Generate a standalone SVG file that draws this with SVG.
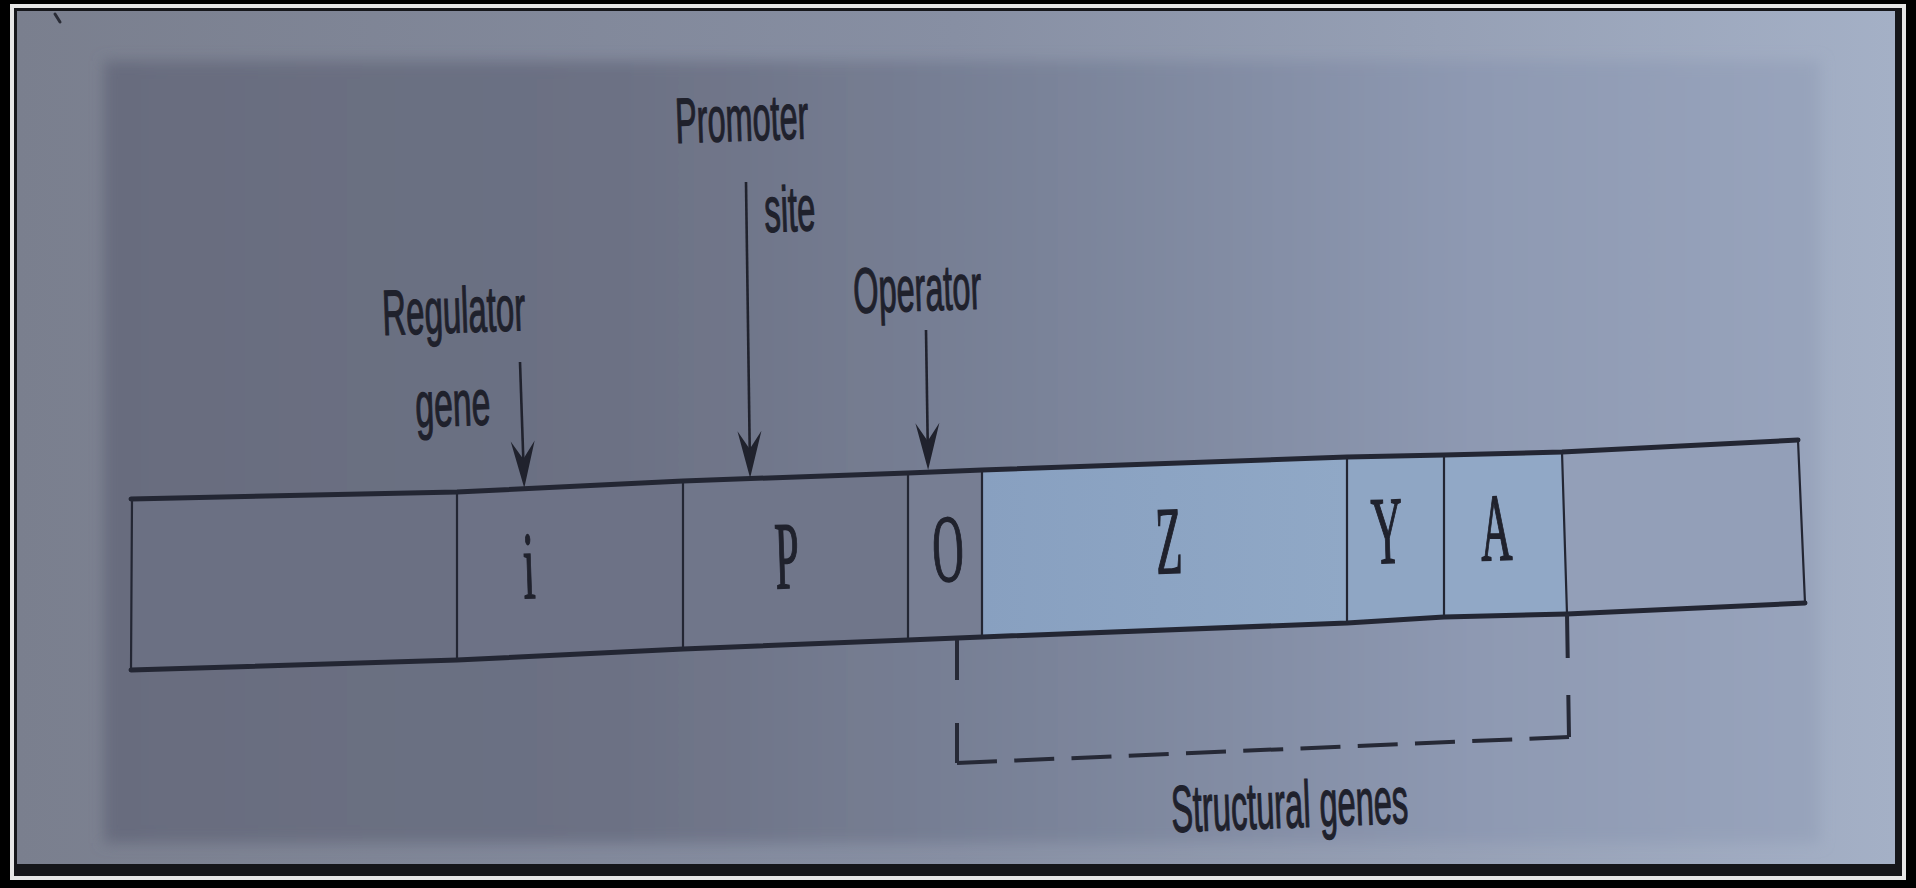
<svg xmlns="http://www.w3.org/2000/svg" width="1916" height="888" viewBox="0 0 1916 888">
  <defs>
    <style>
      .label { font-family: "Liberation Sans", Arial, sans-serif; font-size: 64px; fill: #1f212c; stroke: #1f212c; stroke-width: 1.3; }
      .gene-letter { font-family: "Liberation Serif", "Times New Roman", serif; font-size: 96px; fill: #20222d; stroke: #20222d; stroke-width: 1.6; text-anchor: middle; }
      .edge { fill: none; stroke: #232633; stroke-width: 5; stroke-linejoin: round; stroke-linecap: round; }
      .divider { fill: none; stroke: #232633; stroke-width: 2.2; }
      .arrow { fill: none; stroke: #20222d; stroke-width: 2.6; marker-end: url(#head); }
      .bracket { fill: none; stroke: #262936; stroke-width: 4; }
    </style>
    <linearGradient id="pageEdge" x1="0" y1="0" x2="1" y2="0">
      <stop offset="0" stop-color="#7a7f8e"/>
      <stop offset="0.5" stop-color="#878fa3"/>
      <stop offset="1" stop-color="#a4b0c6"/>
    </linearGradient>
    <linearGradient id="pageInner" x1="0" y1="0" x2="1" y2="0">
      <stop offset="0" stop-color="#686c7e"/>
      <stop offset="0.3" stop-color="#6c7184"/>
      <stop offset="0.55" stop-color="#7a8399"/>
      <stop offset="0.8" stop-color="#8e99b2"/>
      <stop offset="1" stop-color="#98a4bc"/>
    </linearGradient>
    <linearGradient id="lacFill" x1="0" y1="0" x2="1" y2="0">
      <stop offset="0" stop-color="#88a0c0"/>
      <stop offset="1" stop-color="#90a8c6"/>
    </linearGradient>
    <filter id="soft" x="-5%" y="-5%" width="110%" height="110%">
      <feGaussianBlur stdDeviation="7"/>
    </filter>
    <marker id="head" markerUnits="userSpaceOnUse" viewBox="-50 -14 50 28" refX="-8" refY="0" markerWidth="50" markerHeight="28" orient="auto">
      <path d="M0,0 L-47,-12 L-29,0 L-47,12 Z" fill="#20222d"/>
    </marker>
  </defs>

  <!-- photo frame -->
  <rect x="0" y="0" width="1916" height="888" fill="#000"/>
  <rect x="10" y="4" width="1896" height="876" fill="#e6e6e6"/>
  <rect x="14" y="8" width="1888" height="868" fill="#15161a"/>

  <!-- printed page -->
  <g id="page">
    <rect x="17" y="11" width="1878" height="853" fill="url(#pageEdge)"/>
    <rect x="104" y="61" width="1716" height="782" fill="url(#pageInner)" filter="url(#soft)"/>
    <path d="M55,14 L60,22" stroke="#2a2c36" stroke-width="3" stroke-linecap="round"/>
  </g>

  <!-- operon bar: cells -->
  <g id="bar">
    <g id="cell-left"><polygon points="131,499 457,492 457,660 131,670" fill="#6b7083"/></g>
    <g id="cell-i">
      <polygon points="457,492 683,481 683,649 457,660" fill="#6d7286"/>
      <text class="gene-letter" transform="translate(530,598) rotate(-2) scale(0.45,1)">i</text>
    </g>
    <g id="cell-p">
      <polygon points="683,481 908,473 908,640 683,649" fill="#70768a"/>
      <text class="gene-letter" transform="translate(788,588) rotate(-2) scale(0.45,1)">P</text>
    </g>
    <g id="cell-o">
      <polygon points="908,473 982,470 982,637 908,640" fill="#777e93"/>
      <text class="gene-letter" transform="translate(949,581) rotate(-2) scale(0.45,1)">O</text>
    </g>
    <g id="cell-z">
      <polygon points="982,470 1347,457 1347,623 982,637" fill="url(#lacFill)"/>
      <text class="gene-letter" transform="translate(1170,573) rotate(-2) scale(0.45,1)">Z</text>
    </g>
    <g id="cell-y">
      <polygon points="1347,457 1444,455 1444,617 1347,623" fill="#8fa6c4"/>
      <text class="gene-letter" transform="translate(1388,563) rotate(-2) scale(0.45,1)">Y</text>
    </g>
    <g id="cell-a">
      <polygon points="1444,455 1562,452 1567,614 1444,617" fill="#91a8c6"/>
      <text class="gene-letter" transform="translate(1497,560) rotate(-2) scale(0.45,1)">A</text>
    </g>
    <g id="cell-right"><polygon points="1562,452 1798,440 1805,603 1567,614" fill="#939fb8"/></g>

    <!-- outline and dividers -->
    <path class="edge" d="M131,499 L457,492 L683,481 L908,473 L982,470 L1347,457 L1444,455 L1562,452 L1798,440"/>
    <path class="edge" d="M131,670 L457,660 L683,649 L908,640 L982,637 L1347,623 L1444,617 L1567,614 L1805,603"/>
    <path class="divider" stroke-width="2.8" d="M132,499 L131,670 M1798,440 L1805,603"/>
    <path class="divider" d="M457,492 L457,660 M683,481 L683,649 M908,473 L908,640 M982,470 L982,637 M1347,457 L1347,623 M1444,455 L1444,617 M1562,452 L1567,614"/>
  </g>

  <!-- labels -->
  <g id="label-regulator">
    <text class="label" x="383" y="335" textLength="143" lengthAdjust="spacingAndGlyphs" transform="rotate(-2 383 335)">Regulator</text>
    <text class="label" x="416" y="427" textLength="75" lengthAdjust="spacingAndGlyphs" transform="rotate(-2 416 427)">gene</text>
  </g>
  <g id="label-promoter">
    <text class="label" x="676" y="143" textLength="133" lengthAdjust="spacingAndGlyphs" transform="rotate(-2 676 143)">Promoter</text>
    <text class="label" x="765" y="232" textLength="51" lengthAdjust="spacingAndGlyphs" transform="rotate(-2 765 232)">site</text>
  </g>
  <g id="label-operator">
    <text class="label" x="854" y="313" textLength="128" lengthAdjust="spacingAndGlyphs" transform="rotate(-2 854 313)">Operator</text>
  </g>
  <g id="label-structural">
    <text class="label" style="font-size:66px" x="1172" y="832" textLength="237" lengthAdjust="spacingAndGlyphs" transform="rotate(-2.2 1172 832)">Structural genes</text>
  </g>

  <!-- connectors -->
  <g id="connectors">
    <path class="arrow" d="M520,362 L524,480"/>
    <path class="arrow" d="M746,182 L750,470"/>
    <path class="arrow" d="M926,330 L928,462"/>
    <g id="bracket">
      <path class="bracket" stroke-width="3" stroke-dasharray="40 43" d="M957,640 L957,763"/>
      <path class="bracket" stroke-width="3" stroke-dasharray="44 37" d="M1567,614 L1569,737"/>
      <path class="bracket" stroke-dasharray="40 17.3" d="M957,763 L1569,737"/>
    </g>
  </g>
</svg>
